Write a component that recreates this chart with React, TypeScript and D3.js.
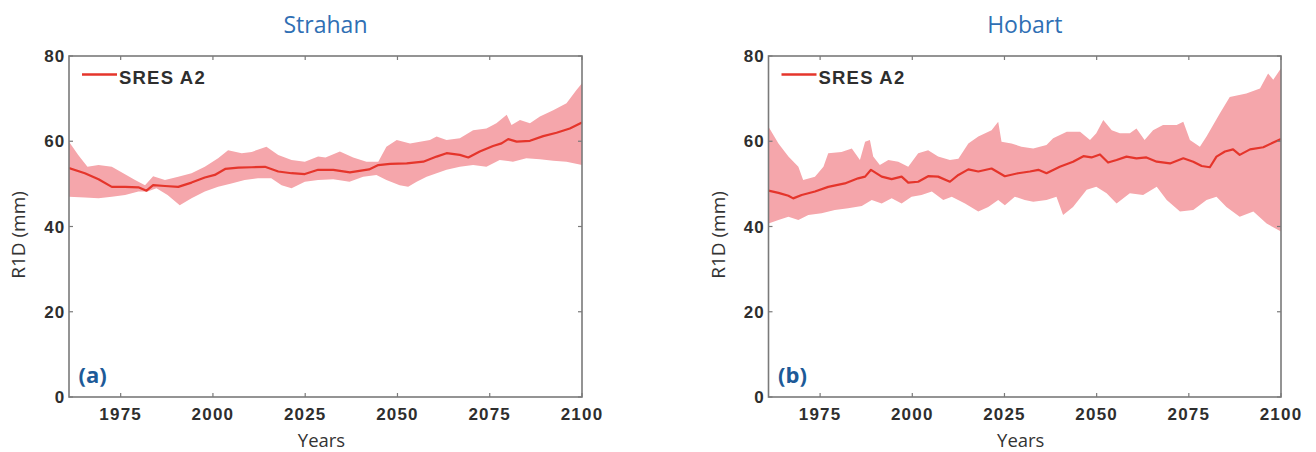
import React from "react";
import * as d3 from "d3";

// ---------- Data ----------
const yTicks = [0, 20, 40, 60, 80];
const xTicks = [1975, 2000, 2025, 2050, 2075, 2100];
const yearDomain = [1961, 2100];
const valueDomain = [0, 80];
const seriesName = "SRES A2";
const stations = ["Strahan", "Hobart"];
const panelLabels = ["(a)", "(b)"];

// Strahan
const strahanMeanYears = [1961, 1965.3, 1969, 1972.6, 1976.2, 1979.8, 1982, 1983.8, 1987, 1990.6, 1994.2, 1997.8, 2000.5, 2003.3, 2006.9, 2010.5, 2014.1, 2017.7, 2021.3, 2024.9, 2028.5, 2032.6, 2037.1, 2042.3, 2044.8, 2048, 2052.5, 2057, 2060.6, 2063.3, 2066.9, 2069.2, 2072.3, 2075.9, 2078.2, 2080, 2082.3, 2085.9, 2089.5, 2093.1, 2096.7, 2100];
const strahanMean = [53.7, 52.5, 51.1, 49.3, 49.3, 49.2, 48.4, 49.7, 49.5, 49.3, 50.3, 51.5, 52.1, 53.5, 53.8, 53.9, 54.0, 52.9, 52.5, 52.3, 53.3, 53.3, 52.7, 53.4, 54.4, 54.7, 54.8, 55.2, 56.4, 57.2, 56.8, 56.2, 57.6, 58.9, 59.5, 60.5, 59.9, 60.1, 61.2, 62.0, 63.0, 64.4];
const strahanUpperYears = [1961, 1963.5, 1966, 1969, 1972.6, 1975.7, 1978.9, 1981.6, 1983.8, 1987, 1990.6, 1994.2, 1997.8, 2001.4, 2004.1, 2007.8, 2010.5, 2014.5, 2017.7, 2021.3, 2024.9, 2028.5, 2030.5, 2034.4, 2038, 2041.6, 2044.8, 2047, 2049.8, 2053.4, 2056.1, 2058.8, 2060.6, 2063.3, 2066.9, 2070.5, 2074.1, 2076.8, 2079.6, 2080.9, 2083.2, 2085.9, 2088.6, 2092.2, 2095.8, 2098.5, 2100];
const strahanUpper = [59.9, 56.8, 54.0, 54.4, 54.0, 52.5, 50.9, 49.7, 51.8, 50.9, 51.7, 52.5, 54.0, 56.0, 57.9, 57.2, 57.5, 58.7, 56.8, 55.6, 55.2, 56.4, 56.2, 57.6, 56.2, 55.2, 55.2, 58.7, 60.3, 59.5, 59.9, 60.3, 61.1, 60.3, 60.7, 62.6, 63.0, 64.2, 66.2, 63.8, 65.0, 64.2, 65.8, 67.3, 68.9, 72.0, 73.6];
const strahanLowerYears = [1961, 1965.3, 1969, 1972.6, 1976.2, 1979.8, 1982.3, 1984.7, 1987.7, 1991, 1994.2, 1997.8, 2001.4, 2005, 2008.6, 2012.2, 2015.8, 2018.6, 2021.3, 2024.9, 2028.5, 2032.6, 2037, 2040.7, 2044.3, 2047, 2050.6, 2052.9, 2055.2, 2057.9, 2060.6, 2063.3, 2066.9, 2070.5, 2074.1, 2077.7, 2081.3, 2084.9, 2088.6, 2092.2, 2095.8, 2100];
const strahanLower = [47.0, 46.8, 46.6, 47.0, 47.4, 48.2, 48.2, 49.0, 47.4, 45.0, 46.6, 48.2, 49.3, 50.1, 50.9, 51.3, 51.3, 49.7, 49.0, 50.5, 50.9, 51.1, 50.5, 51.7, 52.1, 50.9, 49.7, 49.3, 50.5, 51.7, 52.5, 53.3, 54.0, 54.4, 54.0, 55.6, 55.2, 56.0, 55.8, 55.4, 55.2, 54.4];

// Hobart
const hobartMeanYears = [1961, 1963.7, 1966.4, 1967.7, 1970, 1973.6, 1977.2, 1981.7, 1985.3, 1987.2, 1988.8, 1991.7, 1994.4, 1997.1, 1998.9, 2001.6, 2004.3, 2007, 2010.2, 2012.5, 2015.2, 2017.9, 2021.5, 2025.1, 2028.7, 2031.9, 2034.2, 2036.4, 2040, 2043.6, 2046.4, 2048.6, 2050.9, 2053.1, 2055.4, 2058.1, 2060.8, 2063.5, 2066.3, 2069.9, 2073.5, 2076.2, 2078.5, 2080.7, 2082.5, 2084.8, 2087, 2088.8, 2091.6, 2095.2, 2097.9, 2100];
const hobartMean = [48.4, 47.9, 47.2, 46.6, 47.4, 48.2, 49.3, 50.1, 51.3, 51.7, 53.3, 51.7, 51.1, 51.7, 50.3, 50.5, 51.8, 51.7, 50.5, 52.1, 53.4, 52.9, 53.6, 51.8, 52.5, 52.9, 53.3, 52.5, 54.0, 55.2, 56.5, 56.2, 56.9, 55.0, 55.6, 56.4, 56.0, 56.2, 55.2, 54.8, 56.0, 55.2, 54.2, 53.9, 56.4, 57.6, 58.1, 56.8, 58.1, 58.6, 59.7, 60.5];
const hobartUpperYears = [1961, 1963.7, 1966.4, 1969.1, 1970.4, 1973.6, 1975.9, 1977.2, 1980.8, 1983.6, 1985.8, 1987.2, 1988.5, 1989.4, 1991.2, 1993.5, 1996.2, 1998.9, 2001.6, 2004.3, 2007, 2010.2, 2012.5, 2015.2, 2017.9, 2021.5, 2023.3, 2024.2, 2026.9, 2029.6, 2032.8, 2036.4, 2038.2, 2041.9, 2045.5, 2048.2, 2049.9, 2051.8, 2054.1, 2056.3, 2059, 2060.8, 2063, 2065.3, 2068, 2071.7, 2073.5, 2075.3, 2078, 2079.8, 2083.4, 2086.1, 2090.6, 2094.3, 2096.5, 2097.9, 2100];
const hobartUpper = [63.4, 59.5, 56.4, 54.0, 50.9, 51.7, 54.0, 57.2, 57.5, 58.3, 55.6, 59.9, 60.3, 56.4, 54.4, 55.6, 55.2, 54.0, 57.2, 57.9, 56.4, 55.6, 55.9, 59.5, 61.1, 62.6, 64.6, 59.9, 59.5, 58.7, 58.3, 59.1, 60.7, 62.2, 62.2, 60.3, 61.9, 65.0, 62.6, 61.9, 61.9, 63.0, 60.3, 62.6, 63.8, 63.8, 64.6, 60.3, 58.7, 61.1, 66.5, 70.4, 71.2, 72.4, 75.9, 74.4, 77.1];
const hobartLowerYears = [1961, 1963.7, 1966.4, 1969.1, 1971.8, 1975.4, 1979, 1982.6, 1986.3, 1989, 1991.7, 1994.4, 1997.1, 1999.8, 2002.5, 2005.3, 2008.4, 2010.7, 2014.3, 2017.9, 2020.6, 2023.3, 2025.1, 2027.8, 2030.5, 2032.8, 2036.4, 2039.1, 2040.9, 2043.6, 2047.3, 2049.9, 2052.7, 2055.4, 2059, 2062.6, 2066.3, 2069, 2072.6, 2076.2, 2079.8, 2082.5, 2085.2, 2088.8, 2092.5, 2096.1, 2100];
const hobartLower = [40.7, 41.5, 42.3, 41.5, 42.7, 43.1, 43.9, 44.3, 44.8, 46.2, 45.4, 46.6, 45.4, 47.0, 47.4, 48.2, 46.2, 47.0, 45.4, 43.5, 44.6, 46.2, 45.0, 47.0, 46.2, 45.8, 46.2, 47.0, 42.7, 44.6, 48.6, 49.3, 47.8, 45.4, 47.8, 47.4, 49.3, 46.2, 43.5, 43.9, 46.2, 47.0, 44.6, 42.3, 43.5, 40.7, 38.8];

const panels = [
  { title: stations[0], label: panelLabels[0], meanYears: strahanMeanYears, mean: strahanMean, upYears: strahanUpperYears, up: strahanUpper, loYears: strahanLowerYears, lo: strahanLower },
  { title: stations[1], label: panelLabels[1], meanYears: hobartMeanYears, mean: hobartMean, upYears: hobartUpperYears, up: hobartUpper, loYears: hobartLowerYears, lo: hobartLower },
];

// ---------- Layout ----------
const W = 1316;
const H = 452;
const frames = [
  { left: 69, right: 582 },
  { left: 768.5, right: 1281 },
];
const TOP = 56;
const BOTTOM = 397;

const AXIS = "#7a7a7a";
const TICKTXT = "#2e2e2e";
const LINE = "#e5352b";
const BAND = "#f5a6ab";
const BLUE = "#2f6fb4";
const LABELBLUE = "#1d5a98";
const SANS = "'Liberation Sans', Arial, sans-serif";
const OPEN = "'Open Sans', 'Noto Sans', sans-serif";

function Panel({ p, f, idx }: any) {
  const x = d3.scaleLinear().domain(yearDomain).range([f.left, f.right]);
  const y = d3.scaleLinear().domain(valueDomain).range([BOTTOM, TOP]);
  const line = d3.line<[number, number]>().x((d) => x(d[0])).y((d) => y(d[1]));
  const meanPts: [number, number][] = p.meanYears.map((yr: number, i: number) => [yr, p.mean[i]]);
  const upPts: [number, number][] = p.upYears.map((yr: number, i: number) => [yr, p.up[i]]);
  const loPts: [number, number][] = p.loYears.map((yr: number, i: number) => [yr, p.lo[i]]);
  const bandPath = line(upPts.concat(loPts.slice().reverse())) + "Z";
  const cx = (f.left + f.right) / 2;
  const clipId = `clip${idx}`;
  const tickLen = 4;
  return (
    <g>
      <defs>
        <clipPath id={clipId}>
          <rect x={f.left} y={TOP} width={f.right - f.left} height={BOTTOM - TOP} />
        </clipPath>
      </defs>
      <text x={cx} y={33} textAnchor="middle" fontFamily={OPEN} fontSize={23} fill={BLUE}>
        {p.title}
      </text>
      <g clipPath={`url(#${clipId})`}>
        <path d={bandPath} fill={BAND} stroke="none" />
        <path d={line(meanPts) || ""} fill="none" stroke={LINE} strokeWidth={2.2} strokeLinejoin="round" />
      </g>
      {/* box */}
      <rect x={f.left} y={TOP} width={f.right - f.left} height={BOTTOM - TOP} fill="none" stroke={AXIS} strokeWidth={1.6} />
      {/* x ticks */}
      {xTicks.map((t) => (
        <g key={"x" + t}>
          <line x1={x(t)} x2={x(t)} y1={BOTTOM} y2={BOTTOM - tickLen} stroke={AXIS} strokeWidth={1.2} />
          <line x1={x(t)} x2={x(t)} y1={TOP} y2={TOP + tickLen} stroke={AXIS} strokeWidth={1.2} />
          <text x={x(t)} y={419.5} textAnchor="middle" fontFamily={SANS} fontWeight="bold" fontSize={17} letterSpacing={1.2} fill={TICKTXT}>
            {t}
          </text>
        </g>
      ))}
      {/* y ticks */}
      {yTicks.map((t) => (
        <g key={"y" + t}>
          <line x1={f.left} x2={f.left + tickLen} y1={y(t)} y2={y(t)} stroke={AXIS} strokeWidth={1.2} />
          <line x1={f.right} x2={f.right - tickLen} y1={y(t)} y2={y(t)} stroke={AXIS} strokeWidth={1.2} />
          <text x={f.left - 3.5} y={y(t)} dy="0.36em" textAnchor="end" fontFamily={SANS} fontWeight="bold" fontSize={17} letterSpacing={1.2} fill={TICKTXT}>
            {t}
          </text>
        </g>
      ))}
      {/* legend */}
      <line x1={f.left + 13} x2={f.left + 48} y1={74.5} y2={74.5} stroke={LINE} strokeWidth={2.4} />
      <text x={f.left + 50} y={83.5} fontFamily={SANS} fontWeight="bold" fontSize={18.5} letterSpacing={1.2} fill={TICKTXT}>
        {seriesName}
      </text>
      {/* panel label */}
      <text x={f.left + 9.5} y={383} fontFamily={OPEN} fontWeight="bold" fontSize={22} fill={LABELBLUE}>
        {p.label}
      </text>
      {/* axis titles */}
      <text x={cx - 4} y={447} textAnchor="middle" fontFamily={OPEN} fontSize={18.5} fill="#333">
        Years
      </text>
      <text
        transform={`translate(${f.left - 44},${235}) rotate(-90)`}
        textAnchor="middle"
        fontFamily={OPEN}
        fontSize={19}
        fill="#333"
      >
        R1D (mm)
      </text>
    </g>
  );
}

export default function App() {
  return (
    <svg width={W} height={H} style={{ position: "absolute", left: 0, top: 0, background: "#fff" }}>
      <rect x={0} y={0} width={W} height={H} fill="#fff" />
      {panels.map((p, i) => (
        <Panel key={i} p={p} f={frames[i]} idx={i} />
      ))}
    </svg>
  );
}
